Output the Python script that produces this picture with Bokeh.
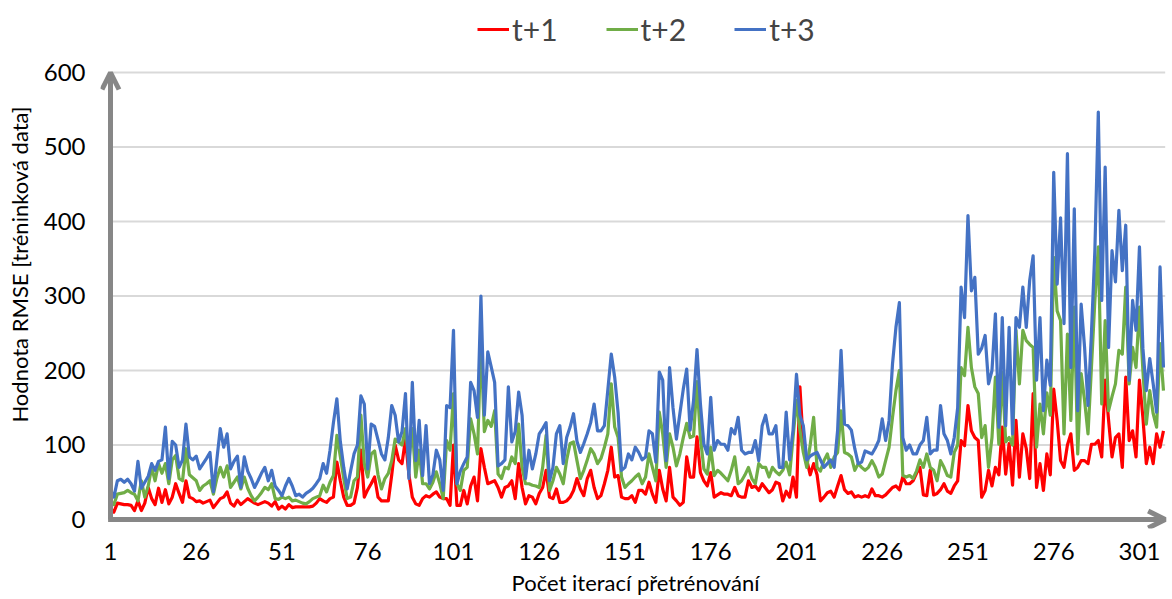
from bokeh.plotting import figure
from bokeh.models import Range1d, Arrow, OpenHead, Legend, LegendItem, FixedTicker
from bokeh.embed import file_html
from bokeh.resources import INLINE

iterations = list(range(1, 309))

t1 = [15, 10, 22, 21, 20, 20, 19, 12, 25, 12, 22, 43, 28, 20, 42, 23, 40, 21, 30, 48, 35, 23, 52, 30, 28,
      24, 25, 22, 24, 26, 16, 22, 28, 30, 37, 22, 18, 26, 20, 24, 28, 25, 22, 20, 22, 24, 22, 18, 24, 14, 18, 14, 20, 16,
      17, 17, 17, 17, 17, 18, 22, 28, 25, 23, 28, 30, 77, 52, 30, 19, 19, 22, 43, 93, 30, 40, 48, 57, 30, 25, 25, 25,
      60, 100, 80, 75, 108, 60, 30, 21, 19, 28, 32, 30, 34, 37, 30, 28, 28, 19, 100, 19, 19, 39, 21, 45, 57, 25, 95, 70,
      48, 50, 52, 43, 30, 43, 45, 52, 28, 75, 43, 21, 32, 30, 21, 35, 43, 66, 30, 28, 41, 23, 23, 25, 30, 39, 55,
      41, 32, 55, 66, 43, 28, 32, 48, 66, 97, 57, 59, 30, 28, 28, 32, 23, 39, 39, 34, 50, 34, 23, 66, 41, 25, 70, 30,
      25, 19, 23, 84, 57, 57, 111, 63, 52, 45, 63, 30, 33, 36, 34, 34, 32, 43, 32, 30, 30, 52, 43, 45, 39, 48, 42, 36,
      40, 50, 48, 25, 38, 30, 57, 30, 178, 100, 80, 60, 75, 60, 25, 30, 36, 38, 30, 45, 59, 40, 35, 37, 30, 32, 30,
      32, 30, 41, 32, 32, 30, 33, 38, 43, 45, 40, 57, 48, 48, 52, 62, 70, 33, 32, 66, 33, 35, 40, 48, 38, 35, 45, 52,
      106, 99, 153, 119, 110, 106, 30, 39, 66, 45, 70, 60, 124, 61, 102, 46, 133, 57, 115, 95, 55, 169, 43, 75, 39, 88, 60,
      175, 133, 79, 70, 100, 115, 66, 70, 79, 79, 75, 101, 101, 106, 84, 187, 133, 84, 110, 115, 70, 191, 106, 119, 84,
      187, 137, 75, 97, 75, 115, 97, 119]

t2 = [25, 20, 34, 35, 36, 39, 36, 34, 25, 52, 30, 45, 70, 52, 75, 62, 75, 48, 80, 86, 55, 52, 95, 60, 56,
      52, 39, 45, 48, 52, 34, 55, 70, 57, 72, 43, 50, 57, 41, 57, 42, 32, 25, 30, 36, 43, 40, 48, 28, 27, 30, 28, 30, 25,
      26, 24, 22, 21, 24, 28, 30, 32, 46, 37, 50, 59, 113, 85, 55, 28, 30, 52, 57, 140, 75, 57, 88, 92, 60, 41, 55, 62,
      79, 108, 104, 100, 122, 79, 122, 57, 93, 48, 48, 41, 50, 64, 48, 28, 106, 93, 169, 48, 39, 66, 70, 135, 115, 88, 240, 118,
      133, 125, 146, 61, 55, 70, 68, 84, 75, 128, 70, 48, 48, 46, 45, 43, 70, 113, 39, 52, 70, 61, 48, 80, 102, 104, 79,
      55, 66, 80, 95, 88, 75, 82, 97, 115, 182, 124, 110, 57, 43, 48, 52, 57, 61, 48, 57, 88, 70, 52, 144, 115, 70, 115, 97,
      72, 88, 110, 129, 110, 112, 185, 110, 68, 61, 97, 59, 66, 62, 57, 52, 66, 84, 48, 52, 60, 70, 55, 48, 75, 70, 70, 57,
      70, 64, 60, 66, 77, 60, 110, 160, 120, 90, 70, 100, 137, 70, 65, 79, 88, 70, 84, 90, 146, 90, 88, 84, 66, 75, 70,
      66, 70, 79, 70, 57, 61, 79, 97, 137, 173, 200, 59, 57, 59, 55, 65, 80, 70, 88, 70, 66, 52, 79, 70, 59, 57, 90, 100,
      204, 193, 258, 204, 178, 169, 110, 126, 70, 110, 191, 101, 198, 104, 110, 100, 254, 182, 254, 240, 235, 231, 97, 155, 115, 170, 140,
      352, 280, 267, 115, 249, 133, 285, 88, 196, 160, 115, 204, 294, 366, 155, 267, 146, 165, 182, 227, 222, 312, 182, 231, 204,
      285, 200, 128, 173, 142, 124, 236, 173]

t3 = [40, 30, 52, 54, 50, 54, 48, 38, 78, 42, 50, 58, 75, 66, 78, 80, 124, 55, 105, 100, 70, 80, 128, 84, 80,
      85, 68, 75, 82, 90, 37, 80, 122, 97, 115, 68, 78, 85, 43, 84, 65, 55, 43, 52, 62, 70, 52, 66, 45, 39, 32, 45, 55, 45,
      32, 34, 30, 35, 38, 42, 48, 55, 75, 62, 93, 130, 162, 105, 70, 41, 65, 88, 100, 166, 155, 68, 128, 125, 107, 88, 80, 110,
      153, 140, 104, 118, 169, 55, 184, 79, 133, 59, 126, 48, 60, 93, 80, 39, 153, 150, 254, 48, 65, 75, 84, 184, 173, 137, 300, 140,
      225, 205, 184, 72, 75, 80, 178, 104, 118, 171, 140, 55, 93, 68, 88, 115, 122, 130, 52, 70, 115, 126, 75, 110, 124, 142, 105,
      90, 102, 115, 130, 155, 119, 119, 126, 174, 222, 191, 143, 66, 70, 88, 80, 97, 90, 80, 84, 119, 115, 77, 198, 187, 79, 204, 150,
      108, 142, 175, 202, 120, 160, 228, 155, 101, 88, 164, 93, 106, 101, 101, 93, 122, 115, 137, 93, 88, 90, 90, 106, 79, 126, 140, 115,
      115, 126, 70, 70, 144, 80, 120, 195, 140, 126, 80, 85, 88, 90, 80, 70, 75, 80, 70, 120, 227, 128, 126, 120, 95, 75, 77,
      92, 90, 88, 96, 106, 135, 106, 133, 209, 258, 291, 110, 93, 100, 88, 88, 100, 106, 137, 88, 93, 93, 153, 115, 106, 88, 110, 150,
      312, 271, 408, 307, 325, 222, 230, 247, 182, 200, 276, 124, 271, 126, 258, 115, 271, 258, 312, 258, 321, 354, 187, 271, 146, 214, 180,
      466, 316, 405, 263, 491, 204, 417, 146, 289, 231, 153, 250, 361, 547, 294, 473, 231, 361, 319, 415, 334, 395, 187, 294, 254,
      366, 230, 173, 216, 182, 144, 339, 204]

series_names = ["t+1", "t+2", "t+3"]
series_colors = ["#FF0000", "#70AD47", "#4472C4"]
x_ticks = [1, 26, 51, 76, 101, 126, 151, 176, 201, 226, 251, 276, 301]
y_ticks = [0, 100, 200, 300, 400, 500, 600]
x_title = "Počet iterací přetrénování"
y_title = "Hodnota RMSE [tréninková data]"

FONT = "Lato"
AX = "#878787"
n = len(iterations)

p = figure(width=1172, height=599, output_backend="svg", toolbar_location=None,
           x_range=Range1d(-1.916, 310.05), y_range=Range1d(-12.08, 696.64),
           min_border_left=100, min_border_right=2, min_border_top=0, min_border_bottom=71)
p.outline_line_color = None
p.background_fill_color = "white"
p.xgrid.grid_line_color = None
p.ygrid.grid_line_color = None

# horizontal gridlines (from the axis to the right end)
grid_levels = y_ticks[1:]
p.segment(x0=[1] * len(grid_levels), x1=[n + 0.5] * len(grid_levels),
          y0=grid_levels, y1=grid_levels, line_color="#D9D9D9", line_width=2)

renderers = []
for ys, c in zip([t1, t2, t3], series_colors):
    r = p.line(iterations, ys, line_color=c, line_width=3.2, line_join="round")
    renderers.append(r)

for ax in [p.xaxis[0], p.yaxis[0]]:
    ax.axis_line_color = None
    ax.major_tick_line_color = None
    ax.minor_tick_line_color = None
    ax.major_tick_out = 0
    ax.major_tick_in = 0
    ax.minor_tick_out = 0
    ax.major_label_text_font = FONT
    ax.major_label_text_font_size = "24px"
    ax.major_label_text_color = "black"
    ax.axis_label_text_font = FONT
    ax.axis_label_text_font_size = "22px"
    ax.axis_label_text_font_style = "normal"
    ax.axis_label_text_color = "black"

p.xaxis.ticker = FixedTicker(ticks=x_ticks)
p.yaxis.ticker = FixedTicker(ticks=y_ticks)
p.xaxis.axis_label = x_title
p.yaxis.axis_label = y_title
p.xaxis.major_label_standoff = 14
p.yaxis.major_label_standoff = 15
p.xaxis.axis_label_standoff = 6
p.yaxis.axis_label_standoff = 8

# axes drawn as arrows
p.add_layout(Arrow(x_start=1, y_start=0, x_end=1, y_end=600, line_color=AX, line_width=5,
                   end=OpenHead(size=17, line_width=5, line_color=AX)))
p.add_layout(Arrow(x_start=0.3, y_start=0, x_end=n + 0.5, y_end=0, line_color=AX, line_width=5,
                   end=OpenHead(size=17, line_width=5, line_color=AX)))

legend = Legend(items=[LegendItem(label=nm, renderers=[r]) for nm, r in zip(series_names, renderers)],
                orientation="horizontal", location=(377, 481),
                label_text_font=FONT, label_text_font_size="30px",
                glyph_width=32, glyph_height=30, label_height=30, label_standoff=3,
                spacing=48, padding=0, margin=0,
                border_line_color=None, background_fill_alpha=0)
p.add_layout(legend)

open("out.html", "w").write(file_html(p, INLINE))
